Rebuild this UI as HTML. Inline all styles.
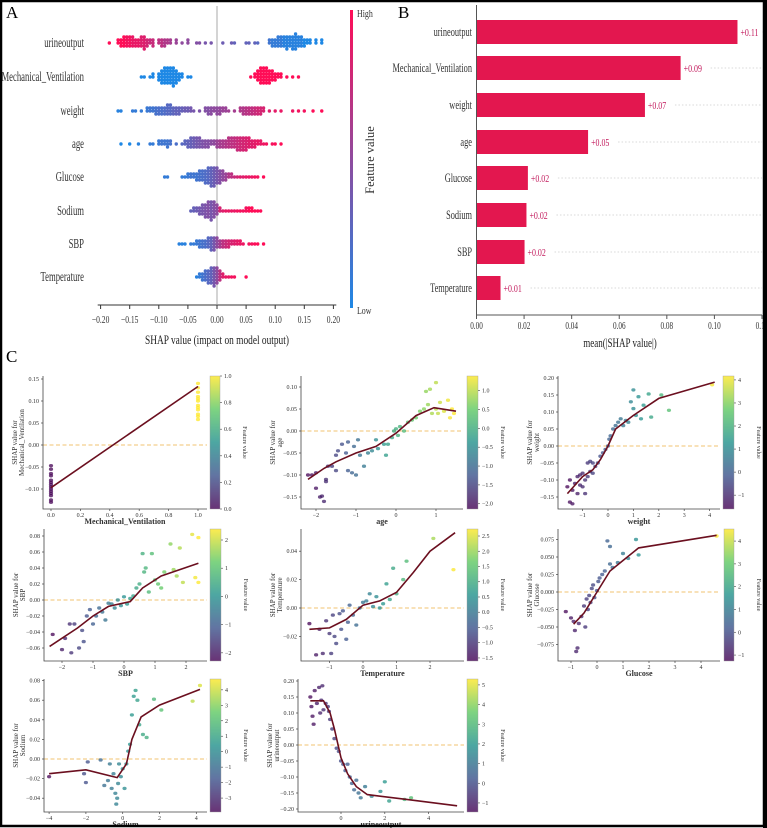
<!DOCTYPE html>
<html><head><meta charset="utf-8"><style>
html,body{margin:0;padding:0;background:#fff}
svg{display:block}
text{font-family:"Liberation Serif",serif}
</style></head><body>
<svg id="fig" width="767" height="828" viewBox="0 0 767 828" xmlns="http://www.w3.org/2000/svg">
<rect x="0" y="0" width="767" height="828" fill="#fff"/>
<g id="pa"></g>
<g id="pb"></g>
<g id="pc"></g>
<rect x="1" y="1" width="763" height="825" fill="none" stroke="#000" stroke-width="2.5"/>
<rect x="763" y="0" width="4" height="828" fill="#000"/>
</svg>
<script>
// ---------- Panel A data ----------
const featureNames = ["urineoutput","Mechanical_Ventilation","weight","age","Glucose","Sodium","SBP","Temperature"];
const urineX = [-0.185,-0.17,-0.165,-0.16,-0.155,-0.15,-0.145,-0.14,-0.135,-0.13,-0.125,-0.12,-0.115,-0.11,-0.1,-0.095,-0.09,-0.085,-0.08,-0.07,-0.06,-0.05,-0.035,-0.03,-0.02,-0.01,0.01,0.025,0.03,0.05,0.055,0.065,0.07,0.09,0.095,0.1,0.105,0.11,0.115,0.12,0.125,0.13,0.135,0.14,0.145,0.15,0.155,0.16,0.17,0.18];
const urineN = [1,2,3,4,4,4,4,3,3,4,5,3,2,3,2,3,3,2,2,2,1,2,1,1,1,1,1,1,1,1,1,1,1,2,3,3,4,4,4,5,4,5,6,4,4,3,2,2,2,2];
const urineC = [1,1,1,1,.95,.95,.9,.9,.9,.85,.85,.8,.75,.75,.7,.7,.65,.65,.6,.55,.5,.5,.45,.45,.4,.4,.35,.35,.3,.3,.3,.3,.25,.15,.1,.1,.1,.1,.05,.05,.05,.05,.05,.05,.05,0,0,0,0,0];
const mvX = [-0.13,-0.125,-0.115,-0.11,-0.1,-0.095,-0.09,-0.085,-0.08,-0.075,-0.07,-0.065,-0.06,-0.05,-0.045,0.058,0.065,0.07,0.075,0.08,0.085,0.09,0.095,0.1,0.105,0.11,0.12,0.13,0.14];
const mvN = [1,1,1,2,3,5,6,6,6,7,5,3,2,1,1,1,2,4,6,6,6,5,4,3,2,2,1,1,1];
const mvC = [0,0,0,0,0,0,0,0,0,0,0,0,0,0,0,1,1,1,1,1,1,1,1,1,1,1,1,1,1];
const weightX = [-0.17,-0.165,-0.145,-0.14,-0.13,-0.12,-0.115,-0.11,-0.105,-0.1,-0.095,-0.09,-0.085,-0.08,-0.075,-0.07,-0.065,-0.06,-0.055,-0.05,-0.045,-0.04,-0.03,-0.02,-0.015,-0.01,-0.005,0.0,0.005,0.01,0.015,0.02,0.03,0.04,0.045,0.05,0.055,0.06,0.065,0.07,0.075,0.08,0.09,0.1,0.11,0.13,0.14,0.15,0.165,0.18];
const weightN = [1,1,1,1,1,2,2,2,3,3,3,3,4,4,3,3,3,2,2,2,2,1,1,2,3,3,2,3,3,2,2,1,1,2,3,3,3,3,3,3,3,2,1,1,1,1,1,1,1,1];
const weightC = [.05,.05,.1,.1,.1,.12,.15,.15,.18,.2,.2,.22,.25,.25,.28,.3,.3,.32,.35,.35,.38,.4,.42,.45,.45,.48,.5,.5,.52,.55,.55,.58,.6,.65,.65,.68,.7,.72,.75,.78,.8,.82,.85,.88,.9,.92,.95,.95,1,1];
const ageX = [-0.165,-0.15,-0.135,-0.115,-0.11,-0.1,-0.095,-0.09,-0.085,-0.08,-0.07,-0.06,-0.055,-0.05,-0.045,-0.04,-0.035,-0.03,-0.025,-0.02,-0.015,-0.01,-0.005,0,0.005,0.01,0.015,0.02,0.025,0.03,0.035,0.04,0.045,0.05,0.055,0.06,0.065,0.07,0.075,0.08,0.085,0.095,0.1,0.11];
const ageN = [1,1,1,1,1,2,2,2,3,2,1,1,2,3,4,4,4,4,3,3,3,2,2,3,3,3,3,4,4,4,5,5,5,5,4,3,3,2,2,1,1,1,1,1];
const ageC = [0,0,.05,.1,.1,.12,.15,.15,.15,.18,.2,.25,.28,.3,.32,.35,.38,.4,.42,.45,.45,.48,.5,.55,.6,.62,.65,.68,.7,.72,.75,.78,.8,.82,.85,.85,.88,.9,.9,.92,.95,.95,1,1];
const glucX = [-0.09,-0.085,-0.06,-0.055,-0.05,-0.045,-0.04,-0.035,-0.03,-0.025,-0.02,-0.015,-0.01,-0.005,0,0.005,0.01,0.015,0.02,0.025,0.03,0.035,0.04,0.045,0.05,0.055,0.06,0.065,0.07,0.08];
const glucN = [1,1,1,1,2,2,2,3,4,4,5,6,7,7,6,5,4,3,2,2,1,1,1,1,1,1,1,1,1,1];
const glucC = [.1,.1,.1,.1,.12,.15,.15,.15,.18,.2,.22,.25,.3,.35,.4,.45,.5,.55,.65,.7,.75,.8,.85,.85,.9,.9,.9,.95,.95,1];
const sodX = [-0.045,-0.04,-0.035,-0.03,-0.025,-0.02,-0.015,-0.01,-0.005,0,0.005,0.01,0.015,0.02,0.025,0.03,0.035,0.04,0.045,0.05,0.055,0.06,0.065,0.07,0.075];
const sodN = [1,2,2,3,4,5,6,7,6,4,2,1,1,1,1,1,1,1,1,2,2,2,1,1,1];
const sodC = [.3,.32,.35,.38,.4,.42,.45,.4,.45,.5,.8,.85,.9,.9,.9,.9,.95,.95,.95,.95,1,1,1,1,1];
const sbpX = [-0.065,-0.06,-0.055,-0.045,-0.04,-0.035,-0.03,-0.025,-0.02,-0.015,-0.01,-0.005,0,0.005,0.01,0.015,0.02,0.025,0.03,0.035,0.04,0.045,0.055,0.06,0.065,0.07,0.08];
const sbpN = [1,1,1,1,1,2,3,3,3,4,5,5,4,3,3,3,3,2,2,2,2,1,1,1,1,1,1];
const sbpC = [.05,.05,.05,.1,.1,.12,.15,.18,.2,.25,.3,.4,.5,.6,.7,.75,.8,.82,.85,.88,.9,.92,.95,.95,1,1,1];
const tempX = [-0.035,-0.03,-0.025,-0.02,-0.015,-0.01,-0.005,0,0.005,0.01,0.015,0.02,0.025,0.03,0.05];
const tempN = [1,2,3,4,5,6,7,6,4,2,1,1,1,1,1];
const tempC = [.05,.1,.15,.2,.25,.3,.4,.5,.7,.85,.9,.9,.95,.95,1];
const summaryTicks = [-0.20,-0.15,-0.10,-0.05,0.00,0.05,0.10,0.15,0.20];

// ---------- Panel B data ----------
const meanAbs = [0.1097,0.0858,0.0708,0.0469,0.0216,0.0210,0.0202,0.0101];
const meanLabels = ["+0.11","+0.09","+0.07","+0.05","+0.02","+0.02","+0.02","+0.01"];
const barTicks = [0.00,0.02,0.04,0.06,0.08,0.10,0.12];

// ---------- Panel C data ----------
const mvPtX = [0,0,0,0,0,0,0,0,0,0,0,0,0,0,1,1,1,1,1,1,1,1,1,1,1,1];
const mvPtY = [-0.13,-0.125,-0.115,-0.11,-0.105,-0.1,-0.095,-0.09,-0.085,-0.08,-0.07,-0.065,-0.055,-0.047,0.058,0.065,0.07,0.08,0.085,0.09,0.1,0.105,0.11,0.12,0.13,0.14];
const mvPtC = [0,0,0,0,0,0,0,0,0,0,0,0,0,0,1,1,1,1,1,1,1,1,1,1,1,1];
const mvCurveX = [0,1];
const mvCurveY = [-0.097,0.133];

const agePtX = [-2.2,-2.1,-2.0,-2.0,-1.9,-1.85,-1.8,-1.75,-1.75,-1.7,-1.6,-1.5,-1.5,-1.45,-1.35,-1.25,-1.2,-1.2,-1.1,-1.05,-1.0,-0.95,-0.9,-0.8,-0.7,-0.6,-0.5,-0.45,-0.3,-0.25,-0.2,-0.1,-0.05,0.0,0.05,0.1,0.2,0.3,0.4,0.5,0.6,0.7,0.75,0.8,0.85,0.9,1.0,1.0,1.05,1.1,1.2,1.3,1.35,1.4,1.45];
const agePtY = [-0.10,-0.10,-0.095,-0.13,-0.15,-0.148,-0.16,-0.11,-0.115,-0.08,-0.08,-0.09,-0.055,-0.045,-0.03,-0.05,-0.025,-0.09,-0.095,-0.035,-0.1,-0.02,-0.055,-0.08,-0.05,-0.045,-0.02,-0.04,-0.03,-0.055,-0.03,-0.015,0.0,0.005,-0.01,0.01,0.0,0.02,0.025,0.03,0.045,0.05,0.09,0.06,0.095,0.04,0.11,0.05,0.04,0.065,0.045,0.07,0.03,0.05,0.04];
const ageCurveX = [-2.2,-1.8,-1.5,-1,-0.5,0,0.5,0.95,1.5];
const ageCurveY = [-0.11,-0.085,-0.07,-0.05,-0.035,-0.005,0.035,0.053,0.045];

const wPtX = [-1.6,-1.5,-1.5,-1.4,-1.4,-1.3,-1.2,-1.2,-1.1,-1.1,-1.0,-1.0,-0.9,-0.9,-0.8,-0.8,-0.7,-0.7,-0.6,-0.6,-0.5,-0.4,-0.3,-0.2,-0.1,0,0.05,0.1,0.2,0.3,0.4,0.5,0.6,0.7,0.8,0.9,1.0,1.0,1.1,1.2,1.3,1.4,1.6,1.7,2.1,2.4,4.1];
const wPtY = [-0.12,-0.10,-0.165,-0.17,-0.13,-0.11,-0.09,-0.14,-0.085,-0.115,-0.08,-0.12,-0.1,-0.14,-0.09,-0.05,-0.045,-0.075,-0.08,-0.05,-0.06,-0.05,-0.03,-0.02,-0.01,0.0,0.02,0.03,0.05,0.06,0.07,0.08,0.06,0.075,0.07,0.13,0.165,0.11,0.09,0.145,0.08,0.12,0.153,0.085,0.15,0.105,0.18];
const wCurveX = [-1.6,-1,-0.6,-0.3,0,0.3,1,2,4.2];
const wCurveY = [-0.14,-0.09,-0.07,-0.04,0.0,0.05,0.09,0.14,0.188];

const sbpPtX = [-2.3,-2.0,-1.9,-1.7,-1.75,-1.6,-1.45,-1.3,-1.35,-1.2,-1.1,-1.0,-0.9,-0.8,-0.7,-0.6,-0.5,-0.4,-0.3,-0.2,-0.1,0,0.1,0.2,0.3,0.4,0.5,0.6,0.65,0.7,0.8,0.9,1.0,1.1,1.2,1.3,1.5,1.6,1.7,1.8,1.9,2.2,2.3,2.4,2.4];
const sbpPtY = [-0.043,-0.062,-0.048,-0.066,-0.03,-0.03,-0.06,-0.052,-0.038,-0.02,-0.012,-0.03,-0.02,-0.01,-0.015,-0.025,-0.004,-0.005,-0.01,0.0,-0.007,0.004,-0.005,0.002,0.005,0.015,0.02,0.058,0.035,0.04,0.01,0.058,0.025,0.02,0.015,0.035,0.07,0.038,0.03,0.065,0.022,0.082,0.028,0.078,0.022];
const sbpCurveX = [-2.4,-1.5,-1,-0.5,0.2,0.6,1.2,2.4];
const sbpCurveY = [-0.058,-0.035,-0.02,-0.008,-0.002,0.015,0.03,0.046];

const tPtX = [-1.6,-1.4,-1.3,-1.2,-1.1,-1.0,-0.95,-0.9,-0.85,-0.8,-0.7,-0.65,-0.6,-0.5,-0.45,-0.4,-0.3,-0.2,-0.1,0,0.1,0.2,0.3,0.4,0.5,0.6,0.7,0.8,0.9,1.0,1.2,1.3,2.1,2.7];
const tPtY = [-0.011,-0.033,-0.015,-0.032,-0.009,-0.018,-0.032,-0.005,-0.02,-0.025,-0.004,-0.015,-0.002,-0.022,-0.01,0.002,-0.005,-0.012,0.0,0.004,0.005,0.01,0.001,0.008,0.0,0.003,0.017,0.006,0.028,0.01,0.02,0.033,0.049,0.027];
const tCurveX = [-1.6,-1,-0.5,0,0.5,1,1.5,2,2.75];
const tCurveY = [-0.015,-0.014,-0.008,0.002,0.005,0.011,0.025,0.04,0.053];

const gPtX = [-1.2,-1.0,-0.9,-0.85,-0.8,-0.75,-0.7,-0.6,-0.5,-0.45,-0.4,-0.35,-0.3,-0.25,-0.2,-0.15,-0.1,0,0.05,0.1,0.2,0.3,0.4,0.5,0.5,0.6,0.8,1.0,1.2,1.5,1.6,4.6];
const gPtY = [-0.028,-0.037,-0.042,-0.055,-0.085,-0.08,-0.045,-0.035,-0.02,-0.05,-0.01,-0.025,-0.005,-0.015,0.005,0.01,-0.008,0.002,0.015,0.02,0.025,0.03,0.073,0.065,0.04,0.035,0.042,0.055,0.048,0.075,0.053,0.08];
const gCurveX = [-0.9,-0.5,0,0.5,1,1.6,4.6];
const gCurveY = [-0.046,-0.03,0.0,0.03,0.045,0.063,0.081];

const nPtX = [-4,-2.1,-2,-1.9,-1.2,-1,-0.8,-0.7,-0.6,-0.5,-0.4,-0.35,-0.3,-0.25,-0.2,-0.1,0,0.1,0.2,0.3,0.4,0.5,0.6,0.7,0.8,0.9,1.1,1.3,1.7,2.1,3.8,4.2];
const nPtY = [-0.018,-0.015,-0.024,-0.003,-0.001,-0.027,-0.022,-0.005,-0.03,-0.015,-0.035,-0.046,-0.04,-0.025,-0.005,-0.018,-0.01,-0.03,-0.005,0.008,0.015,0.045,0.064,0.07,0.06,0.035,0.025,0.022,0.061,0.05,0.059,0.075];
const nCurveX = [-4,-2,-0.3,0.2,0.5,1,2,4.2];
const nCurveY = [-0.015,-0.011,-0.019,-0.005,0.02,0.043,0.055,0.071];

const uPtX = [-1.4,-1.35,-1.3,-1.25,-1.2,-1.1,-1.0,-0.95,-0.9,-0.85,-0.8,-0.7,-0.6,-0.55,-0.5,-0.4,-0.3,-0.2,-0.1,0,0.1,0.2,0.3,0.4,0.5,0.6,0.7,0.8,0.9,1.1,1.4,1.8,2.0,2.2,2.9,3.2];
const uPtY = [0.15,0.12,0.09,0.065,0.17,0.13,0.18,0.1,0.14,0.185,0.11,0.13,0.12,0.105,0.08,0.05,0.02,-0.01,-0.02,-0.05,-0.06,-0.08,-0.06,-0.1,-0.12,-0.14,-0.11,-0.15,-0.165,-0.13,-0.16,-0.145,-0.115,-0.175,-0.17,-0.165];
const uCurveX = [-1.4,-0.8,-0.5,-0.3,0,0.3,0.7,1.2,3,5.3];
const uCurveY = [0.138,0.138,0.1,0.05,-0.04,-0.09,-0.13,-0.155,-0.17,-0.19];

// tick label arrays
const mvYT=[0.15,0.10,0.05,0.00,-0.05,-0.10], mvXT=[0,0.2,0.4,0.6,0.8,1.0], mvCT=[0,0.2,0.4,0.6,0.8,1.0];
const ageYT=[0.10,0.05,0.00,-0.05,-0.10,-0.15], ageXT=[-2,-1,0,1], ageCT=[1.0,0.5,0.0,-0.5,-1.0,-1.5,-2.0];
const wYT=[0.20,0.15,0.10,0.05,0.00,-0.05,-0.10,-0.15], wXT=[-1,0,1,2,3,4], wCT=[4,3,2,1,0,-1];
const sbpYT=[0.08,0.06,0.04,0.02,0.00,-0.02,-0.04,-0.06], sbpXT=[-2,-1,0,1,2], sbpCT=[2,1,0,-1,-2];
const tYT=[0.04,0.02,0.00,-0.02], tXT=[-1,0,1,2], tCT=[2.5,2.0,1.5,1.0,0.5,0.0,-0.5,-1.0,-1.5];
const gYT=[0.075,0.050,0.025,0.000,-0.025,-0.050,-0.075], gXT=[-1,0,1,2,3,4], gCT=[4,3,2,1,0,-1];
const nYT=[0.08,0.06,0.04,0.02,0.00,-0.02,-0.04], nXT=[-4,-2,0,2,4], nCT=[4,3,2,1,0,-1,-2,-3];
const uYT=[0.20,0.15,0.10,0.05,0.00,-0.05,-0.10,-0.15,-0.20], uXT=[0,2,4], uCT=[5,4,3,2,1,0,-1];

const NS="http://www.w3.org/2000/svg";
function mk(parent,tag,attrs,txt){const e=document.createElementNS(NS,tag);for(const k in attrs)e.setAttribute(k,attrs[k]);if(txt!==undefined)e.textContent=txt;parent.appendChild(e);return e;}
function squeeze(el,f){try{const w=el.getComputedTextLength();if(w>0){el.setAttribute('textLength',(w*f).toFixed(1));el.setAttribute('lengthAdjust','spacingAndGlyphs');}}catch(e){}}
function fmt(v,d){return (v<0?"\u2212":"")+Math.abs(v).toFixed(d);}
function lerp(a,b,t){return a+(b-a)*t;}
function shapColor(t){const r=Math.round(lerp(30,255,t)),g=Math.round(lerp(136,13,t)),b=Math.round(lerp(229,87,t));return `rgb(${r},${g},${b})`;}
const vir=[[68,1,84],[59,82,139],[33,145,140],[94,201,98],[253,231,37]];
function viridis(t){t=Math.max(0,Math.min(1,t));const s=t*4,i=Math.min(3,Math.floor(s)),f=s-i;const a=vir[i],b=vir[i+1];return `rgb(${Math.round(lerp(a[0],b[0],f))},${Math.round(lerp(a[1],b[1],f))},${Math.round(lerp(a[2],b[2],f))})`;}

// ---------- Panel A ----------
(function(){
const g=document.getElementById('pa');
const t=mk(g,'text',{x:6,y:18,'font-size':17},'A');


const sx=v=>217+v*582;
const rowY=[43,77,111,144,177,211,244,277];
const zl=mk(g,'line',{x1:217,y1:6,x2:217,y2:304,stroke:'#aaa','stroke-width':1});


const series=[[urineX,urineN,urineC],[mvX,mvN,mvC],[weightX,weightN,weightC],[ageX,ageN,ageC],[glucX,glucN,glucC],[sodX,sodN,sodC],[sbpX,sbpN,sbpC],[tempX,tempN,tempC]];
series.forEach((s,fi)=>{
  const lab=mk(g,'text',{x:84,y:rowY[fi]+4,'font-size':13.5,'text-anchor':'end',fill:'#333'},featureNames[fi]);
  squeeze(lab,0.64);
  
  
  const grp=mk(g,'g',{});
  
  
  s[0].forEach((x,i)=>{
    for(let k=0;k<s[1][i];k++){
      const dy=((k+1)>>1)*3*(k%2?-1:1);
      const c=mk(grp,'circle',{cx:sx(x),cy:rowY[fi]+dy,r:1.7,fill:shapColor(s[2][i])});
      
      
    }
  });
});
const ax=mk(g,'line',{x1:sx(-0.205),y1:305,x2:sx(0.205),y2:305,stroke:'#333','stroke-width':1});


summaryTicks.forEach(v=>{
  mk(g,'line',{x1:sx(v),y1:305,x2:sx(v),y2:309,stroke:'#333'});
  const tl=mk(g,'text',{x:sx(v),y:323,'font-size':10.5,'text-anchor':'middle',fill:'#333'},fmt(v,2));
  squeeze(tl,0.72);
  
  
});
const xt=mk(g,'text',{x:217,y:344,'font-size':13,'text-anchor':'middle',fill:'#222'},'SHAP value (impact on model output)');
squeeze(xt,0.72);


const defs=mk(g,'defs',{});
const lg=mk(defs,'linearGradient',{id:'shapGrad',x1:0,y1:1,x2:0,y2:0});
mk(lg,'stop',{offset:'0',  'stop-color':shapColor(0)});
mk(lg,'stop',{offset:'0.5','stop-color':shapColor(0.5)});
mk(lg,'stop',{offset:'1',  'stop-color':shapColor(1)});
const cb=mk(g,'rect',{x:350,y:10,width:3,height:298,fill:'url(#shapGrad)'});


const hi=mk(g,'text',{x:357,y:17,'font-size':10.5,fill:'#333'},'High');
squeeze(hi,0.75);


const lo=mk(g,'text',{x:357,y:314,'font-size':10.5,fill:'#333'},'Low');
squeeze(lo,0.75);


const fv=mk(g,'text',{x:0,y:0,'font-size':12.5,fill:'#333','text-anchor':'middle',transform:'translate(374,160) rotate(-90)'},'Feature value');


})();

// ---------- Panel B ----------
(function(){
const g=document.getElementById('pb');
const t=mk(g,'text',{x:398,y:18,'font-size':17},'B');


const sx=v=>476.5+v*2379;
const rowY=[32,68,105,142,178,215,252,288];
meanAbs.forEach((v,i)=>{
  const gl=mk(g,'line',{x1:sx(v)+30,y1:rowY[i],x2:762,y2:rowY[i],stroke:'#ccc','stroke-width':0.8,'stroke-dasharray':'1.5 2'});
  
  
  const r=mk(g,'rect',{x:sx(0),y:rowY[i]-12,width:sx(v)-sx(0),height:24,fill:'#e3174f'});
  
  
  const vl=mk(g,'text',{x:sx(v)+3,y:rowY[i]+4,'font-size':11,fill:'#c2185b'},meanLabels[i]);
  squeeze(vl,0.72);
  
  
  const fl=mk(g,'text',{x:472,y:rowY[i]+4,'font-size':13,'text-anchor':'end',fill:'#333'},featureNames[i]);
  squeeze(fl,0.64);
  
  
});
const ya=mk(g,'line',{x1:476.5,y1:5,x2:476.5,y2:315,stroke:'#555','stroke-width':1});


const xa=mk(g,'line',{x1:476.5,y1:315,x2:762,y2:315,stroke:'#555','stroke-width':1});


barTicks.forEach(v=>{
  mk(g,'line',{x1:sx(v),y1:315,x2:sx(v),y2:319,stroke:'#555'});
  const tl=mk(g,'text',{x:sx(v),y:329,'font-size':10,'text-anchor':'middle',fill:'#333'},v.toFixed(2));
  squeeze(tl,0.72);
  
  
});
const xt=mk(g,'text',{x:620,y:347,'font-size':12.5,'text-anchor':'middle',fill:'#222'},'mean(|SHAP value|)');
squeeze(xt,0.72);


})();

// ---------- Panel C ----------
const pc=document.getElementById('pc');
{
const t=mk(pc,'text',{x:6,y:362,'font-size':17},'C');


}
let gradId=0;
function dep(c){
  const g=mk(pc,'g',{});
  
  
  const [l,t,r,b]=c.box;
  const X=v=>c.x0+v*c.xs, Y=v=>c.y0-v*c.ys;
  const zl=mk(g,'line',{x1:l,y1:Y(0),x2:r,y2:Y(0),stroke:'#eeb54f','stroke-width':1,'stroke-dasharray':'4 2.5',opacity:0.8});
  
  
  const cmin=c.cb[2],cmax=c.cb[3];
  c.px.forEach((x,i)=>{
    const cv=c.pc?c.pc[i]:x;
    const e=mk(g,'ellipse',{cx:X(x),cy:Y(c.py[i]),rx:2.1,ry:1.7,fill:viridis((cv-cmin)/(cmax-cmin)),opacity:0.75});
    
    
  });
  const pts=c.cx.map((x,i)=>X(x).toFixed(1)+','+Y(c.cy[i]).toFixed(1)).join(' ');
  const pl=mk(g,'polyline',{points:pts,fill:'none',stroke:'#6b0f1f','stroke-width':1.6});
  
  
  const sp=mk(g,'path',{d:`M${l},${t}V${b}H${r}`,fill:'none',stroke:'#444','stroke-width':0.8});
  
  
  c.yt.forEach(v=>{
    mk(g,'line',{x1:l-2,y1:Y(v),x2:l,y2:Y(v),stroke:'#444','stroke-width':0.7});
    const tl=mk(g,'text',{x:l-4,y:Y(v)+2,'font-size':6,'text-anchor':'end',fill:'#333'},fmt(v,c.yd));
    
    
  });
  c.xt.forEach(v=>{
    mk(g,'line',{x1:X(v),y1:b,x2:X(v),y2:b+2,stroke:'#444','stroke-width':0.7});
    const tl=mk(g,'text',{x:X(v),y:b+8,'font-size':6,'text-anchor':'middle',fill:'#333'},fmt(v,c.xd));
    
    
  });
  const xl=mk(g,'text',{x:(l+r)/2,y:b+15,'font-size':8,'font-weight':'bold','text-anchor':'middle',fill:'#333'},c.xl);
  
  
  const cyc=(t+b)/2;
  const yl1=mk(g,'text',{x:0,y:0,'font-size':7,'text-anchor':'middle',fill:'#333',transform:`translate(${l-26},${cyc}) rotate(-90)`},'SHAP value for');
  
  
  const yl2=mk(g,'text',{x:0,y:0,'font-size':7,'text-anchor':'middle',fill:'#333',transform:`translate(${l-19},${cyc}) rotate(-90)`},c.yl);
  
  
  const id='vg'+(gradId++);
  const defs=mk(g,'defs',{});
  const lg=mk(defs,'linearGradient',{id:id,x1:0,y1:1,x2:0,y2:0});
  [0,.25,.5,.75,1].forEach(o=>mk(lg,'stop',{offset:o,'stop-color':viridis(o)}));
  const [cl,cr]=c.cb;
  const cbr=mk(g,'rect',{x:cl,y:t,width:cr-cl,height:b-t,fill:`url(#${id})`,opacity:0.8,stroke:'#888','stroke-width':0.4});
  
  
  const CY=v=>b-(v-cmin)/(cmax-cmin)*(b-t);
  c.ct.forEach(v=>{
    mk(g,'line',{x1:cr,y1:CY(v),x2:cr+2,y2:CY(v),stroke:'#444','stroke-width':0.6});
    const tl=mk(g,'text',{x:cr+4,y:CY(v)+2,'font-size':6,fill:'#333'},fmt(v,c.cd));
    
    
  });
  const ft=mk(g,'text',{x:0,y:0,'font-size':6,'text-anchor':'middle',fill:'#333',transform:`translate(${cr+23},${cyc}) rotate(90)`},'Feature value');
  
  
}
dep({name:'mechanical-ventilation',box:[43,376,207,509],x0:51,xs:147,y0:445,ys:440,px:mvPtX,py:mvPtY,pc:mvPtC,cx:mvCurveX,cy:mvCurveY,yt:mvYT,yd:2,xt:mvXT,xd:1,xl:'Mechanical_Ventilation',yl:'Mechanical_Ventilation',cb:[210,220,0,1],ct:mvCT,cd:1});
dep({name:'age',box:[301,376,463,509],x0:396,xs:40,y0:431,ys:440,px:agePtX,py:agePtY,cx:ageCurveX,cy:ageCurveY,yt:ageYT,yd:2,xt:ageXT,xd:0,xl:'age',yl:'age',cb:[467,478,-2.14,1.39],ct:ageCT,cd:1});
dep({name:'weight',box:[558,376,720,509],x0:608,xs:25.4,y0:446,ys:340,px:wPtX,py:wPtY,cx:wCurveX,cy:wCurveY,yt:wYT,yd:2,xt:wXT,xd:0,xl:'weight',yl:'weight',cb:[723,734,-1.6,4.17],ct:wCT,cd:0});
dep({name:'sbp',box:[44,529,207,661],x0:124,xs:31,y0:600,ys:800,px:sbpPtX,py:sbpPtY,cx:sbpCurveX,cy:sbpCurveY,yt:sbpYT,yd:2,xt:sbpXT,xd:0,xl:'SBP',yl:'SBP',cb:[210,221,-2.29,2.39],ct:sbpCT,cd:0});
dep({name:'temperature',box:[301,529,464,661],x0:363,xs:33.5,y0:608,ys:1420,px:tPtX,py:tPtY,cx:tCurveX,cy:tCurveY,yt:tYT,yd:2,xt:tXT,xd:0,xl:'Temperature',yl:'Temperature',cb:[467,478,-1.6,2.73],ct:tCT,cd:1});
dep({name:'glucose',box:[558,529,720,661],x0:597,xs:26,y0:592,ys:700,px:gPtX,py:gPtY,cx:gCurveX,cy:gCurveY,yt:gYT,yd:3,xt:gXT,xd:0,xl:'Glucose',yl:'Glucose',cb:[724,734,-1.26,4.53],ct:gCT,cd:0});
dep({name:'sodium',box:[44,679,207,812],x0:122.7,xs:18.4,y0:759,ys:980,px:nPtX,py:nPtY,cx:nCurveX,cy:nCurveY,yt:nYT,yd:2,xt:nXT,xd:0,xl:'Sodium',yl:'Sodium',cb:[210,221,-3.9,4.7],ct:nCT,cd:0});
dep({name:'urineoutput',box:[298,679,464,812],x0:341,xs:21.9,y0:745,ys:320,px:uPtX,py:uPtY,cx:uCurveX,cy:uCurveY,yt:uYT,yd:2,xt:uXT,xd:0,xl:'urineoutput',yl:'urineoutput',cb:[467,478,-1.46,5.3],ct:uCT,cd:0});
</script>
</body></html>
